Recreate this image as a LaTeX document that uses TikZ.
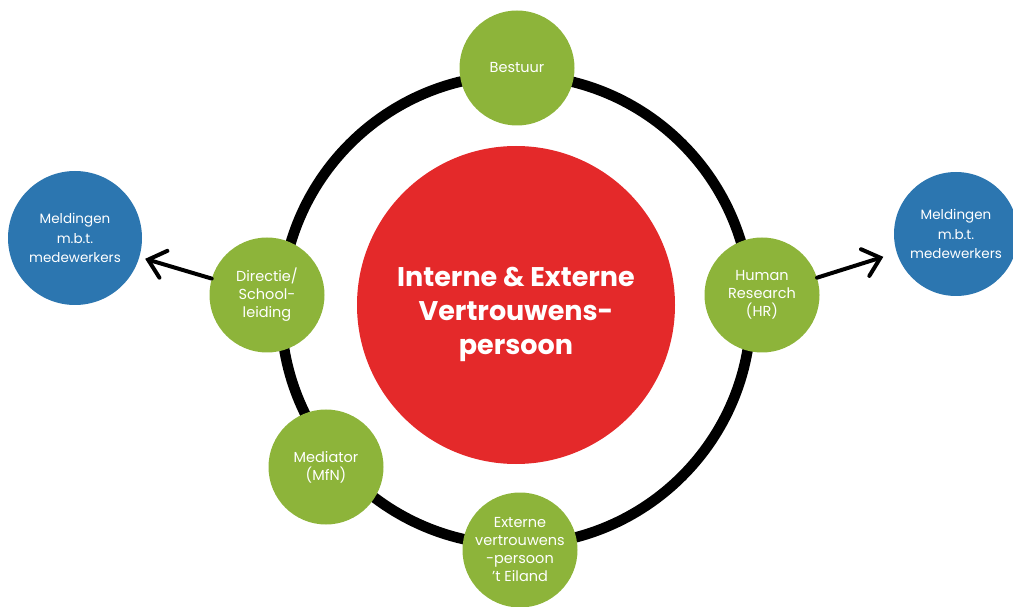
\documentclass[tikz,border=0pt]{standalone}
\usepackage{fontspec}
\setmainfont{Poppins}
\usetikzlibrary{arrows.meta, positioning}

\definecolor{roleGreen}{HTML}{8DB43A}
\definecolor{coreRed}{HTML}{E4292A}
\definecolor{reportBlue}{HTML}{2C76B0}

\begin{document}
\begin{tikzpicture}[x=1pt, y=1pt,
    role/.style={circle, fill=roleGreen, minimum size=115pt, inner sep=0pt,
        align=center, text=white, font=\fontsize{14.5}{18}\selectfont},
    report/.style={circle, fill=reportBlue, inner sep=0pt,
        align=center, text=white, font=\fontsize{13.5}{19.5}\selectfont},
    core/.style={circle, fill=coreRed, minimum size=318pt, inner sep=0pt},
    coreText/.style={align=center, text=white, font=\fontsize{27}{34}\selectfont\bfseries},
    flow/.style={-{Straight Barb[length=16pt, width=28pt, line cap=round]},
        line width=4pt, line cap=round}]
    \def\ringR{235}

    \useasboundingbox (0, 0) rectangle (1013, 606);
    \clip (0, 0) rectangle (1013, 606);

    % Draw ring
    \draw[line width=10.5pt] (516, 296) circle (\ringR);

    % Draw centre
    \node[core] (vp) at (516, 301) {};
    \node[coreText] (vpText) at ([yshift=-9pt]vp.center) {Interne \& Externe\\Vertrouwens-\\persoon};

    % Draw roles on the ring
    \node[role] (bestuur) at (517, 538) {Bestuur};
    \node[role] (directie) at (267, 311) {Directie/\\School-\\leiding};
    \node[role] (hr) at (762, 311) {Human\\Research\\(HR)};
    \node[role] (mediator) at (326, 139) {Mediator\\(MfN)};
    \node[role] (extern) at (520, 56) {Externe\\vertrouwens\\-persoon\\'t Eiland};

    % Draw reports
    \node[report, minimum size=134pt] (meldLeft) at (75, 368) {Meldingen\\m.b.t.\\medewerkers};
    \node[report, minimum size=124pt] (meldRight) at (956, 372) {Meldingen\\m.b.t.\\medewerkers};

    % Draw arrows
    \draw[flow, shorten >=6pt] (directie) -- (meldLeft);
    \draw[flow, shorten >=14pt] (hr) -- (meldRight);
\end{tikzpicture}
\end{document}
